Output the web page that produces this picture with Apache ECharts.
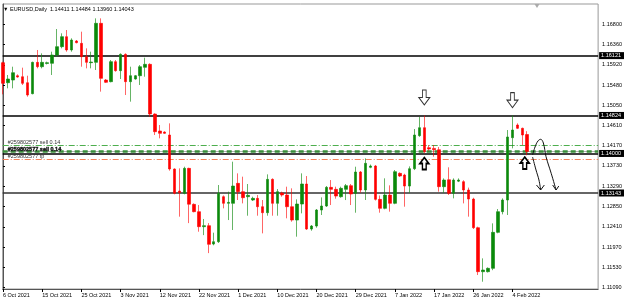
<!DOCTYPE html>
<html><head><meta charset="utf-8">
<script src="https://cdn.jsdelivr.net/npm/echarts@6/dist/echarts.min.js"></script>
<style>html,body{margin:0;padding:0;background:#fff}#c{width:625px;height:298px}</style>
</head><body><div id="c"></div>
<script>
const dates = [
'6 Oct 2021','7 Oct 2021','8 Oct 2021','10 Oct 2021','11 Oct 2021','12 Oct 2021','13 Oct 2021','14 Oct 2021',
'15 Oct 2021','17 Oct 2021','18 Oct 2021','19 Oct 2021','20 Oct 2021','21 Oct 2021','22 Oct 2021','24 Oct 2021',
'25 Oct 2021','26 Oct 2021','27 Oct 2021','28 Oct 2021','29 Oct 2021','31 Oct 2021','1 Nov 2021','2 Nov 2021',
'3 Nov 2021','4 Nov 2021','5 Nov 2021','7 Nov 2021','8 Nov 2021','9 Nov 2021','10 Nov 2021','11 Nov 2021',
'12 Nov 2021','14 Nov 2021','15 Nov 2021','16 Nov 2021','17 Nov 2021','18 Nov 2021','19 Nov 2021','21 Nov 2021',
'22 Nov 2021','23 Nov 2021','24 Nov 2021','25 Nov 2021','26 Nov 2021','28 Nov 2021','29 Nov 2021','30 Nov 2021',
'1 Dec 2021','2 Dec 2021','3 Dec 2021','5 Dec 2021','6 Dec 2021','7 Dec 2021','8 Dec 2021','9 Dec 2021',
'10 Dec 2021','12 Dec 2021','13 Dec 2021','14 Dec 2021','15 Dec 2021','16 Dec 2021','17 Dec 2021','19 Dec 2021',
'20 Dec 2021','21 Dec 2021','22 Dec 2021','23 Dec 2021','24 Dec 2021','26 Dec 2021','27 Dec 2021','28 Dec 2021',
'29 Dec 2021','30 Dec 2021','31 Dec 2021','2 Jan 2022','3 Jan 2022','4 Jan 2022','5 Jan 2022','6 Jan 2022',
'7 Jan 2022','9 Jan 2022','10 Jan 2022','11 Jan 2022','12 Jan 2022','13 Jan 2022','14 Jan 2022','16 Jan 2022',
'17 Jan 2022','18 Jan 2022','19 Jan 2022','20 Jan 2022','21 Jan 2022','23 Jan 2022','24 Jan 2022','25 Jan 2022',
'26 Jan 2022','27 Jan 2022','28 Jan 2022','30 Jan 2022','31 Jan 2022','1 Feb 2022','2 Feb 2022','3 Feb 2022',
'4 Feb 2022','6 Feb 2022','7 Feb 2022','8 Feb 2022','9 Feb 2022','10 Feb 2022','11 Feb 2022','13 Feb 2022',
'14 Feb 2022','15 Feb 2022','16 Feb 2022','17 Feb 2022','18 Feb 2022','20 Feb 2022','21 Feb 2022','22 Feb 2022',
'23 Feb 2022','24 Feb 2022'
];
const open = [
1.15968,1.15534,1.15592,1.15686,1.15664,1.15534,1.15296,1.15975,1.15881,1.15951,
1.15954,1.16134,1.16315,1.16532,1.16243,1.16438,1.16387,1.16098,1.15968,1.15975,
1.16821,1.15592,1.15556,1.15990,1.15795,1.16149,1.15556,1.15614,1.15686,1.15867,
1.15932,1.14855,1.14487,1.14465,1.14400,1.13663,1.13186,1.13136,1.13677,1.12897,
1.12738,1.12413,1.12435,1.12037,1.12087,1.13063,1.12919,1.12919,1.13352,1.13172,
1.13063,1.12991,1.13027,1.12846,1.12716,1.13439,1.12919,1.13143,1.13099,1.12846,
1.12557,1.12904,1.13338,1.12362,1.12427,1.12774,1.12861,1.13265,1.13222,1.13063,
1.13222,1.13302,1.13136,1.13598,1.13208,1.13699,1.13728,1.13005,1.12810,1.13099,
1.12919,1.13569,1.13533,1.13294,1.13670,1.14386,1.14559,1.14125,1.14110,1.14080,
1.13280,1.13430,1.13136,1.13400,1.13389,1.13208,1.13012,1.12391,1.11437,1.11437,
1.11510,1.12290,1.12738,1.12991,1.14342,1.14617,1.14545,1.14411
];
const close = [
1.15520,1.15614,1.15751,1.15657,1.15520,1.15267,1.15975,1.15881,1.15975,1.15968,
1.16134,1.16315,1.16532,1.16243,1.16459,1.16402,1.16098,1.15975,1.15982,1.16821,
1.15628,1.15542,1.15990,1.15795,1.16149,1.15556,1.15686,1.15686,1.15881,1.15932,
1.14855,1.14472,1.14436,1.14436,1.13663,1.13136,1.13150,1.13677,1.12900,1.12738,
1.12413,1.12435,1.12030,1.12087,1.13136,1.12919,1.12940,1.13294,1.13172,1.13041,
1.13092,1.13027,1.12846,1.12716,1.13439,1.12919,1.13172,1.13099,1.12846,1.12557,
1.12904,1.13338,1.12362,1.12427,1.12774,1.12861,1.13265,1.13222,1.13077,1.13244,
1.13302,1.13121,1.13598,1.13208,1.13786,1.13728,1.13005,1.12810,1.13099,1.12919,
1.13605,1.13511,1.13294,1.13670,1.14400,1.14559,1.14039,1.14096,1.14080,1.13280,
1.13424,1.13136,1.13424,1.13424,1.13208,1.13012,1.12391,1.11437,1.11473,1.11510,
1.12290,1.12738,1.12991,1.14357,1.14508,1.14545,1.14400,1.14043
];
const low = [
1.15282,1.15412,1.15412,1.15643,1.15484,1.15231,1.15282,1.15845,1.15845,1.15930,
1.15701,1.16098,1.16279,1.16206,1.16206,1.16387,1.15881,1.15845,1.15845,1.15809,
1.15340,1.15527,1.15542,1.15773,1.15614,1.15267,1.15123,1.15600,1.15484,1.15664,
1.14797,1.14400,1.14328,1.14422,1.13627,1.13114,1.12630,1.13114,1.12490,1.12724,
1.12304,1.12230,1.11840,1.12010,1.12060,1.12810,1.12557,1.12341,1.12991,1.12918,
1.12651,1.12970,1.12651,1.12268,1.12651,1.12651,1.12651,1.13063,1.12594,1.12521,
1.12196,1.12702,1.12341,1.12326,1.12391,1.12666,1.12840,1.12882,1.13020,1.13041,
1.12990,1.12882,1.12716,1.13150,1.12991,1.13680,1.12980,1.12716,1.12790,1.12738,
1.12900,1.13490,1.12846,1.13150,1.13640,1.14360,1.14003,1.14060,1.13930,1.13172,
1.13150,1.13100,1.13027,1.13380,1.12918,1.12630,1.12362,1.11365,1.11220,1.11420,
1.11470,1.12270,1.12680,1.12666,1.14111,1.14530,1.14183,1.13960
];
const high = [
1.15990,1.15701,1.15881,1.15715,1.15860,1.15686,1.15990,1.16243,1.16170,1.15990,
1.16206,1.16698,1.16604,1.16676,1.16496,1.16459,1.16640,1.16279,1.16206,1.16929,
1.16929,1.15614,1.16026,1.16026,1.16170,1.16170,1.15881,1.15701,1.15917,1.16076,
1.15954,1.14870,1.14617,1.14480,1.14653,1.13677,1.13677,1.13713,1.13691,1.12918,
1.12882,1.12580,1.12490,1.12283,1.13316,1.13090,1.13172,1.13822,1.13569,1.13497,
1.13338,1.13063,1.13099,1.12991,1.13547,1.13461,1.13229,1.13172,1.13280,1.13244,
1.13005,1.13569,1.13511,1.12449,1.12796,1.13048,1.13294,1.13424,1.13280,1.13280,
1.13338,1.13338,1.13713,1.13620,1.13894,1.13760,1.13750,1.13090,1.13461,1.13309,
1.13641,1.13590,1.13560,1.13720,1.14530,1.14790,1.14824,1.14183,1.14183,1.14140,
1.13460,1.13700,1.13460,1.13460,1.13420,1.13260,1.13040,1.12413,1.11726,1.11530,
1.12485,1.12796,1.13027,1.14508,1.14824,1.14653,1.14560,1.14484
];
const yTicks = [1.11090,1.11530,1.11970,1.12410,1.12850,1.13290,1.13730,1.14170,1.14610,1.15050,1.15480,1.15920,1.16360,1.16800];
const xTickIdx = [0,8,16,24,32,40,48,56,64,72,80,88,96,104];
const levelLines = [1.16121, 1.14824, 1.14000, 1.13143];
const orderSell = 1.14177, orderEntry = 1.14043, orderTp = 1.13873;
const titleText = '\u25BC EURUSD,Daily  1.14411 1.14484 1.13960 1.14043';
const downArrowAt = [[86, 1.15213], [104, 1.15155]];
const upArrowAt = [[86, 1.13782], [106.5, 1.13793]];
const shiftMarkAt = [109, 1.1724];
const sketchA = [[108.1,1.13967],[108.6,1.14140],[109.2,1.14270],[109.75,1.14307],[110.3,1.14227],[110.85,1.13930],[111.9,1.13570],[112.9,1.13208]];
const sketchAHead = [[112.2,1.13316],[112.9,1.13208],[113.45,1.13294]];
const sketchB = [[108.1,1.13923],[108.8,1.13642],[109.4,1.13425],[109.75,1.13208]];
const sketchBHead = [[108.9,1.13316],[109.75,1.13208],[110.5,1.13316]];

const FONT = 'Liberation Sans, Arial, sans-serif';
const FS = 5.5;
const candles = open.map((o, i) => [i, o, close[i], low[i], high[i]]);

const boxLabel = (v) => ({
  show: true, position: 'end', distance: 1, formatter: v.toFixed(5),
  backgroundColor: '#000', color: '#fff', fontSize: FS, fontFamily: FONT, padding: [1, 3, 0, 2]
});
const markLines = [
  { yAxis: orderEntry, lineStyle: { color: '#b0b0b0', width: 1, type: 'solid' }, label: { show: false } },
  { yAxis: orderEntry, lineStyle: { color: '#3a8e3a', width: 2.5, type: [5, 3] },
    label: { show: true, position: 'insideStartTop', distance: [5, -1], formatter: '#259802577 sell 0.14',
      color: '#111', fontSize: FS, fontWeight: 'bold', fontFamily: FONT, textBorderColor: '#333', textBorderWidth: 0.4 } },
  { yAxis: orderSell, lineStyle: { color: '#4dae4d', width: 1, type: [6, 2, 1, 2] },
    label: { show: true, position: 'insideStartTop', distance: [5, 0], formatter: '#259802577 sell 0.14',
      color: '#333', fontSize: FS, fontFamily: FONT } },
  { yAxis: orderTp, lineStyle: { color: '#f4825a', width: 1, type: [6, 2, 1, 2] },
    label: { show: true, position: 'insideStartTop', distance: [5, 0], formatter: '#259802577 tp',
      color: '#333', fontSize: FS, fontFamily: FONT } },
  ...levelLines.map((v, k) => ({
    yAxis: v,
    lineStyle: { color: k === 3 ? '#333' : '#000', width: 1.5, type: 'solid' },
    label: boxLabel(v)
  }))
];
const downPath = 'path://M4,0 L8,0 L8,7 L12,7 L6,14 L0,7 L4,7 Z';
const upPath = 'path://M6,0 L12,7 L8.5,7 L8.5,14 L3.5,14 L3.5,7 L0,7 Z';
const markPoints = [
  ...downArrowAt.map(p => ({ coord: p, symbol: downPath, symbolSize: [11, 15],
    itemStyle: { color: '#fff', borderColor: '#333', borderWidth: 1 } })),
  ...upArrowAt.map(p => ({ coord: p, symbol: upPath, symbolSize: [9, 12],
    itemStyle: { color: '#fff', borderColor: '#000', borderWidth: 1.6 } })),
  { coord: shiftMarkAt, symbol: 'triangle', symbolRotate: 180, symbolSize: [5, 4], symbolOffset: [0, 2],
    itemStyle: { color: '#aaa' } }
];
const sketchSeries = [sketchA, sketchAHead, sketchB, sketchBHead].map((pts, k) => ({
  type: 'line', data: pts, smooth: (k % 2 === 0) ? 0.4 : false, showSymbol: false, symbol: 'none',
  lineStyle: { color: '#111', width: 1 }, silent: true, z: 5, clip: false
}));

const chart = echarts.init(document.getElementById('c'), null, { renderer: 'canvas' });
chart.setOption({
  animation: false,
  backgroundColor: '#fff',
  textStyle: { fontFamily: FONT },
  title: { text: titleText, left: 3, top: 6, padding: 0,
    textStyle: { fontSize: FS, fontWeight: 'normal', color: '#000', fontFamily: FONT } },
  grid: { left: 1, top: 4, width: 598, height: 285, show: true, borderColor: '#999', borderWidth: 1, containLabel: false },
  xAxis: {
    type: 'value', min: -0.061, max: 121.48,
    axisLine: { show: true, onZero: false, lineStyle: { color: '#555', width: 1 } },
    axisTick: { show: true, customValues: xTickIdx, length: 3, lineStyle: { color: '#000' } },
    axisLabel: { customValues: xTickIdx, formatter: v => dates[Math.round(v)], align: 'left', margin: 3,
      fontSize: FS, color: '#000', fontFamily: FONT },
    splitLine: { show: false }
  },
  yAxis: {
    type: 'value', position: 'right', min: 1.11062, max: 1.1724, scale: true,
    axisLine: { show: true, lineStyle: { color: '#555', width: 1 } },
    axisTick: { show: true, customValues: yTicks, length: 2, lineStyle: { color: '#000' } },
    axisLabel: { customValues: yTicks, formatter: v => v.toFixed(5), margin: 4, fontSize: FS, color: '#000', fontFamily: FONT },
    splitLine: { show: false }
  },
  series: [
    {
      type: 'candlestick', data: candles, encode: { x: 0, y: [1, 2, 3, 4] }, barWidth: 3,
      itemStyle: { color: '#0a8a0a', color0: '#ff0000', borderColor: 'rgba(20,140,20,0.65)', borderColor0: 'rgba(255,0,0,0.6)', borderWidth: 1 },
      z: 3,
      markLine: { silent: true, precision: 5, symbol: ['none', 'none'], animation: false, data: markLines, z: 2 },
      markPoint: { silent: true, precision: 5, animation: false, label: { show: false }, data: markPoints, z: 6 }
    },
    ...sketchSeries
  ]
});
</script></body></html>
